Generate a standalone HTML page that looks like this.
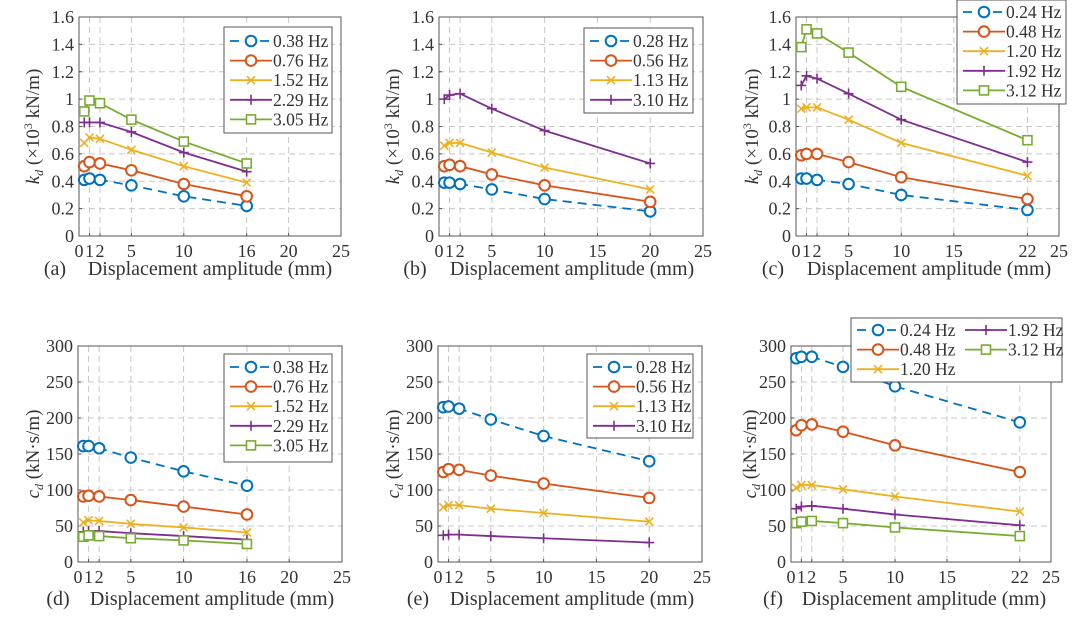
<!DOCTYPE html>
<html><head><meta charset="utf-8"><style>
html,body{margin:0;padding:0;background:#fff;}
svg{display:block;font-family:"Liberation Serif",serif;}
</style></head><body>
<svg id="fig" width="1080" height="618" viewBox="0 0 1080 618"></svg>
<script>
// x positions (mm)
const xsA = [0.5,1,2,5,10,16];
const xsB = [0.5,1,2,5,10,20];
const xsC = [0.5,1,2,5,10,22];
const xTicksA = [0,1,2,5,10,16,20,25];
const xTicksB = [0,1,2,5,10,15,20,25];
const xTicksC = [0,1,2,5,10,15,22,25];
const kTicks = [0,0.2,0.4,0.6,0.8,1,1.2,1.4,1.6];
const kTickLabels = ["0","0.2","0.4","0.6","0.8","1","1.2","1.4","1.6"];
const cTicks = [0,50,100,150,200,250,300];
const namesA = ["0.38 Hz","0.76 Hz","1.52 Hz","2.29 Hz","3.05 Hz"];
const namesB = ["0.28 Hz","0.56 Hz","1.13 Hz","3.10 Hz"];
const namesC = ["0.24 Hz","0.48 Hz","1.20 Hz","1.92 Hz","3.12 Hz"];
// panel (a) kd
const kdA038 = [0.41,0.42,0.41,0.37,0.29,0.22];
const kdA076 = [0.51,0.54,0.53,0.48,0.38,0.29];
const kdA152 = [0.68,0.72,0.71,0.63,0.51,0.39];
const kdA229 = [0.83,0.83,0.83,0.76,0.61,0.47];
const kdA305 = [0.91,0.99,0.97,0.85,0.69,0.53];
// panel (b) kd
const kdB028 = [0.39,0.39,0.38,0.34,0.27,0.18];
const kdB056 = [0.51,0.52,0.51,0.45,0.37,0.25];
const kdB113 = [0.66,0.68,0.68,0.61,0.50,0.34];
const kdB310 = [1.00,1.03,1.04,0.93,0.77,0.53];
// panel (c) kd
const kdC024 = [0.42,0.42,0.41,0.38,0.30,0.19];
const kdC048 = [0.59,0.60,0.60,0.54,0.43,0.27];
const kdC120 = [0.93,0.94,0.94,0.85,0.68,0.44];
const kdC192 = [1.10,1.17,1.15,1.04,0.85,0.54];
const kdC312 = [1.38,1.51,1.48,1.34,1.09,0.70];
// panel (d) cd
const cdD038 = [161,161,158,145,126,106];
const cdD076 = [91,92,91,86,77,66];
const cdD152 = [55,58,57,53,48,41];
const cdD229 = [42,43,43,40,36,31];
const cdD305 = [35,37,36,33,30,25];
// panel (e) cd
const cdE028 = [215,216,213,198,175,140];
const cdE056 = [125,129,128,120,109,89];
const cdE113 = [76,79,79,74,68,56];
const cdE310 = [37,38,38,36,33,27];
// panel (f) cd
const cdF024 = [283,285,285,271,244,194];
const cdF048 = [183,190,191,181,162,125];
const cdF120 = [103,107,107,101,91,70];
const cdF192 = [74,77,78,74,66,51];
const cdF312 = [54,56,57,54,48,36];

const NS="http://www.w3.org/2000/svg";
const svg=document.getElementById('fig');
const COL={blue:"#0072BD",orange:"#D95319",yellow:"#EDB120",purple:"#7E2F8E",green:"#77AC30"};
function mk(tag,attrs,parent){const e=document.createElementNS(NS,tag);for(const k in attrs)e.setAttribute(k,attrs[k]);(parent||svg).appendChild(e);return e;}

function marker(g,type,x,y,c){
  let m;
  if(type==='o'){m=mk('circle',{cx:x,cy:y,r:5.3,fill:'#fff',stroke:c,'stroke-width':2},g);}
  else if(type==='s'){m=mk('rect',{x:x-4.5,y:y-4.5,width:9,height:9,fill:'#fff',stroke:c,'stroke-width':1.6},g);}
  else if(type==='x'){m=mk('path',{d:`M${x-4} ${y-4}L${x+4} ${y+4}M${x-4} ${y+4}L${x+4} ${y-4}`,stroke:c,'stroke-width':1.6,fill:'none'},g);}
  else {m=mk('path',{d:`M${x-5} ${y}L${x+5} ${y}M${x} ${y-5}L${x} ${y+5}`,stroke:c,'stroke-width':1.6,fill:'none'},g);}
  
  
}

const panels=[
 {id:'a',L:79,R:341,T:17,B:236,ymax:1.6,yt:kTicks,ytl:kTickLabels,xt:xTicksA,xs:xsA,names:namesA,vals:[kdA038,kdA076,kdA152,kdA229,kdA305],
  st:['blue','orange','yellow','purple','green'],kind:'k',ylx:33,lab:[55,275],xtx:210,leg:{x:224,y:27,w:108,h:106,r0:41,cols:1}},
 {id:'b',L:439,R:703,T:17,B:236,ymax:1.6,yt:kTicks,ytl:kTickLabels,xt:xTicksB,xs:xsB,names:namesB,vals:[kdB028,kdB056,kdB113,kdB310],
  st:['blue','orange','yellow','purple'],kind:'k',ylx:393,lab:[415,275],xtx:572,leg:{x:584,y:28,w:109,h:85,r0:41,cols:1}},
 {id:'c',L:796,R:1059,T:17,B:236,ymax:1.6,yt:kTicks,ytl:kTickLabels,xt:xTicksC,xs:xsC,names:namesC,vals:[kdC024,kdC048,kdC120,kdC192,kdC312],
  st:['blue','orange','yellow','purple','green'],kind:'k',ylx:752,lab:[773,275],xtx:929,leg:{x:957,y:0,w:109,h:104,r0:12,cols:1}},
 {id:'d',L:78,R:342,T:346,B:562,ymax:300,yt:cTicks,ytl:cTicks.map(String),xt:xTicksA,xs:xsA,names:namesA,vals:[cdD038,cdD076,cdD152,cdD229,cdD305],
  st:['blue','orange','yellow','purple','green'],kind:'c',ylx:33,lab:[58,605],xtx:212,leg:{x:224,y:354,w:108,h:108,r0:367,cols:1}},
 {id:'e',L:438,R:702,T:346,B:562,ymax:300,yt:cTicks,ytl:cTicks.map(String),xt:xTicksB,xs:xsB,names:namesB,vals:[cdE028,cdE056,cdE113,cdE310],
  st:['blue','orange','yellow','purple'],kind:'c',ylx:393,lab:[418,605],xtx:572,leg:{x:587,y:354,w:106,h:84,r0:367,cols:1}},
 {id:'f',L:791,R:1051,T:346,B:562,ymax:300,yt:cTicks,ytl:cTicks.map(String),xt:xTicksC,xs:xsC,names:namesC,vals:[cdF024,cdF048,cdF120,cdF192,cdF312],
  st:['blue','orange','yellow','purple','green'],kind:'c',ylx:750,lab:[773,605],xtx:924,leg:{x:851,y:318,w:211,h:64,r0:330,cols:2}}
];
const MK={blue:'o',orange:'o',yellow:'x',purple:'+',green:'s'};

panels.forEach(p=>{
  const g=mk('g',{});
  
  
  const X=v=>p.L+(p.R-p.L)*v/25;
  const Y=v=>p.B-(p.B-p.T)*v/p.ymax;
  p.xt.forEach(t=>{ if(t>0&&t<25){const l=mk('line',{x1:X(t),x2:X(t),y1:p.T,y2:p.B,stroke:'#c8c8c8','stroke-dasharray':'6,4','stroke-width':1},g);
    }});
  p.yt.forEach(t=>{ if(t>0&&t<p.ymax){const l=mk('line',{x1:p.L,x2:p.R,y1:Y(t),y2:Y(t),stroke:'#c8c8c8','stroke-dasharray':'6,4','stroke-width':1},g);
    }});
  const box=mk('rect',{x:p.L,y:p.T,width:p.R-p.L,height:p.B-p.T,fill:'none',stroke:'#555','stroke-width':1},g);
  
  p.xt.forEach((t,i)=>{
    mk('line',{x1:X(t),x2:X(t),y1:p.B,y2:p.B-3,stroke:'#555'},g);
    const tx=mk('text',{x:X(t),y:p.B+21,'text-anchor':'middle','font-size':18,fill:'#333'},g);
    tx.textContent=t;
    
  });
  p.yt.forEach((t,i)=>{
    mk('line',{x1:p.L,x2:p.L+3,y1:Y(t),y2:Y(t),stroke:'#555'},g);
    const tx=mk('text',{x:p.L-5,y:Y(t)+6,'text-anchor':'end','font-size':18,fill:'#333'},g);
    tx.textContent=p.ytl[i];
    
  });
  p.vals.forEach((vals,si)=>{
    const c=COL[p.st[si]];
    const sg=mk('g',{},g);
    
    
    const d=vals.map((v,i)=>(i?'L':'M')+X(p.xs[i])+' '+Y(v)).join('');
    const attrs={d:d,fill:'none',stroke:c,'stroke-width':1.8};
    if(p.st[si]==='blue')attrs['stroke-dasharray']='9,6';
    mk('path',attrs,sg);
    vals.forEach((v,i)=>marker(sg,MK[p.st[si]],X(p.xs[i]),Y(v),c));
  });
  const xt=mk('text',{x:p.xtx,y:p.lab[1],'text-anchor':'middle','font-size':20,fill:'#333'},g);
  xt.textContent='Displacement amplitude (mm)';
  
  const pl=mk('text',{x:p.lab[0],y:p.lab[1],'text-anchor':'middle','font-size':20,fill:'#333'},g);
  pl.textContent='('+p.id+')';
  
  const cy=(p.T+p.B)/2;
  const yl=mk('text',{x:p.ylx,y:cy,'text-anchor':'middle','font-size':19,fill:'#333',transform:`rotate(-90 ${p.ylx} ${cy})`,dy:6},g);
  
  if(p.kind==='k'){
    yl.innerHTML='<tspan font-style="italic">k</tspan><tspan font-style="italic" font-size="12" dy="4">d</tspan><tspan dy="-4"> (×10</tspan><tspan font-size="12" dy="-7">3</tspan><tspan dy="7"> kN/m)</tspan>';
  } else {
    yl.innerHTML='<tspan font-style="italic">c</tspan><tspan font-style="italic" font-size="12" dy="4">d</tspan><tspan dy="-4"> (kN·s/m)</tspan>';
  }
  const L=p.leg;
  const lg=mk('g',{},g);
  
  mk('rect',{x:L.x,y:L.y,width:L.w,height:L.h,fill:'#fff',stroke:'#555','stroke-width':1},lg);
  p.names.forEach((n,si)=>{
    const col=L.cols===2?(si<3?0:1):0;
    const row=L.cols===2?(si<3?si:si-3):si;
    const lx=L.x+4+col*108;
    const ly=L.r0+row*19.6;
    const c=COL[p.st[si]];
    const eg=mk('g',{},lg);
    
    const a={x1:lx+2,x2:lx+44,y1:ly,y2:ly,stroke:c,'stroke-width':1.8};
    if(p.st[si]==='blue')a['stroke-dasharray']='9,6';
    mk('line',a,eg);
    marker(eg,MK[p.st[si]],lx+23,ly,c);
    const t=mk('text',{x:lx+45,y:ly+6,'font-size':17.5,fill:'#333'},eg);
    t.textContent=n;
  });
});
</script>
</body></html>
